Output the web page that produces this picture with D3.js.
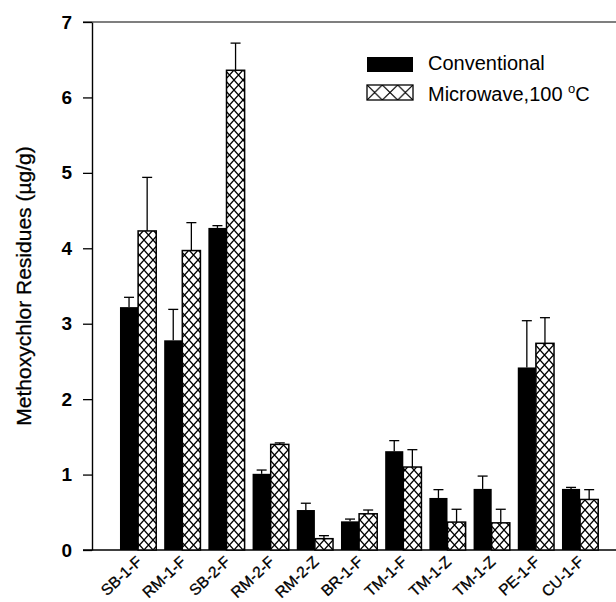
<html>

<head>
    <script src="https://d3js.org/d3.v7.min.js"></script>
    <style>
        body {
            margin: 0;
            background: white;
        }

        text {
            font-family: "Liberation Sans", Arial, sans-serif;
        }

        .bar-conv {
            fill: black;
        }

        .bar-micro {
            fill: url(#hatch);
            stroke: black;
            stroke-width: 1.5px;
        }

        .err {
            stroke: black;
            stroke-width: 1.3px;
            fill: none;
        }
    </style>
</head>

<body>
    <svg id="chart" width="616" height="602"></svg>
    <script>
        //sample names along the x axis (TM-1-Z appears twice in the figure)
        const categories = ["SB-1-F", "RM-1-F", "SB-2-F", "RM-2-F", "RM-2-Z", "BR-1-F", "TM-1-F", "TM-1-Z", "TM-1-Z", "PE-1-F", "CU-1-F"];
        const seriesNames = ["Conventional", "Microwave,100 "];

        //methoxychlor residues (ug/g) and upper error bar sizes
        const conventional = [3.22, 2.78, 4.27, 1.01, 0.53, 0.38, 1.31, 0.69, 0.81, 2.42, 0.81];
        const conventionalErr = [0.13, 0.41, 0.03, 0.05, 0.09, 0.03, 0.14, 0.11, 0.17, 0.62, 0.02];
        const microwave = [4.23, 3.97, 6.36, 1.40, 0.15, 0.48, 1.10, 0.37, 0.36, 2.74, 0.67];
        const microwaveErr = [0.71, 0.37, 0.36, 0.02, 0.04, 0.05, 0.23, 0.17, 0.18, 0.34, 0.13];

        const yTicks = [0, 1, 2, 3, 4, 5, 6, 7];

        const svg = d3.select("#chart");
        const width = +svg.attr("width");

        const plotLeft = 92, plotTop = 22, plotBottom = 550;

        //hatch patterns (bars and legend)
        const defs = svg.append("defs");
        const hatch = defs.append("pattern")
            .attr("id", "hatch")
            .attr("patternUnits", "userSpaceOnUse")
            .attr("width", 9)
            .attr("height", 10);
        hatch.append("rect").attr("width", 9).attr("height", 10).attr("fill", "white");
        hatch.append("path")
            .attr("d", "M0,0L9,10M0,10L9,0")
            .attr("stroke", "black")
            .attr("stroke-width", 1.3)
            .attr("stroke-linecap", "square");

        const hatchLeg = defs.append("pattern")
            .attr("id", "hatchLeg")
            .attr("patternUnits", "userSpaceOnUse")
            .attr("x", 367).attr("y", 85)
            .attr("width", 46 / 3)
            .attr("height", 15);
        hatchLeg.append("rect").attr("width", 46 / 3).attr("height", 15).attr("fill", "white");
        hatchLeg.append("path")
            .attr("d", "M0,0L" + (46 / 3) + ",15M0,15L" + (46 / 3) + ",0")
            .attr("stroke", "black")
            .attr("stroke-width", 1.2);

        //scales
        const idx = d3.range(categories.length);
        const x = d3.scaleBand()
            .domain(idx)
            .range([116, 602.2])
            .paddingInner(0.18)
            .paddingOuter(0.09);
        const xSub = d3.scaleBand()
            .domain(["conv", "micro"])
            .range([0, x.bandwidth()]);
        const y = d3.scaleLinear()
            .domain([0, 7])
            .range([plotBottom, plotTop]);

        //frame lines
        svg.append("line")
            .attr("x1", 83).attr("x2", width)
            .attr("y1", plotTop).attr("y2", plotTop)
            .attr("stroke", "black").attr("stroke-width", 1.2);
        svg.append("line")
            .attr("x1", 83).attr("x2", width)
            .attr("y1", plotBottom).attr("y2", plotBottom)
            .attr("stroke", "black").attr("stroke-width", 1.4);

        //y axis
        const yAxis = svg.append("g")
            .attr("transform", "translate(" + plotLeft + ",0)")
            .call(d3.axisLeft(y).tickValues(yTicks).tickFormat(d3.format("d"))
                .tickSize(9).tickSizeOuter(0).tickPadding(11));
        yAxis.select(".domain").attr("stroke-width", 1.4);
        yAxis.selectAll(".tick line").attr("stroke-width", 1.3);
        yAxis.selectAll("text")
            .attr("font-size", 19)
            .attr("font-weight", "bold")
            .attr("fill", "black");

        svg.append("text")
            .attr("transform", "translate(31,286) rotate(-90)")
            .attr("text-anchor", "middle")
            .attr("font-size", 21)
            .attr("stroke", "black")
            .attr("stroke-width", 0.3)
            .text("Methoxychlor Residues (\u00b5g/g)");

        //x axis labels
        const xAxis = svg.append("g")
            .attr("transform", "translate(0," + plotBottom + ")")
            .call(d3.axisBottom(x).tickFormat(i => categories[i]).tickSize(0));
        xAxis.select(".domain").remove();
        xAxis.selectAll("text")
            .attr("x", 0).attr("y", 0)
            .attr("dy", "0.35em")
            .attr("transform", "translate(1,9) rotate(-43)")
            .attr("text-anchor", "end")
            .attr("font-size", 15.5)
            .attr("stroke", "black")
            .attr("stroke-width", 0.3)
            .attr("fill", "black");

        //error bars first so bars sit over the lower end
        function errBar(vals, errs, key) {
            const g = svg.append("g");
            idx.forEach(function (i) {
                const cx = x(i) + xSub(key) + xSub.bandwidth() / 2;
                const top = y(vals[i] + errs[i]);
                g.append("line").attr("class", "err")
                    .attr("x1", cx).attr("x2", cx)
                    .attr("y1", y(vals[i])).attr("y2", top);
                g.append("line").attr("class", "err")
                    .attr("x1", cx - 5).attr("x2", cx + 5)
                    .attr("y1", top).attr("y2", top);
            });
        }
        errBar(conventional, conventionalErr, "conv");
        errBar(microwave, microwaveErr, "micro");

        //bars
        svg.append("g").selectAll("rect").data(idx)
            .join("rect")
            .attr("class", "bar-conv")
            .attr("x", i => x(i) + xSub("conv"))
            .attr("y", i => y(conventional[i]))
            .attr("width", xSub.bandwidth())
            .attr("height", i => y(0) - y(conventional[i]));

        svg.append("g").selectAll("rect").data(idx)
            .join("rect")
            .attr("class", "bar-micro")
            .attr("x", i => x(i) + xSub("micro"))
            .attr("y", i => y(microwave[i]))
            .attr("width", xSub.bandwidth())
            .attr("height", i => y(0) - y(microwave[i]));

        //legend
        const legend = svg.append("g");
        legend.append("rect")
            .attr("x", 367).attr("y", 57)
            .attr("width", 46).attr("height", 15)
            .attr("fill", "black");
        legend.append("rect")
            .attr("x", 367).attr("y", 85)
            .attr("width", 46).attr("height", 15)
            .attr("fill", "url(#hatchLeg)")
            .attr("stroke", "black").attr("stroke-width", 1.3);
        legend.append("text")
            .attr("x", 428).attr("y", 70)
            .attr("font-size", 20)
            .text(seriesNames[0]);
        const micText = legend.append("text")
            .attr("x", 428).attr("y", 101)
            .attr("font-size", 20)
            .text(seriesNames[1]);
        micText.append("tspan").attr("font-size", 13).attr("dy", -8).text("o");
        micText.append("tspan").attr("dy", 8).text("C");
    </script>
</body>

</html>
